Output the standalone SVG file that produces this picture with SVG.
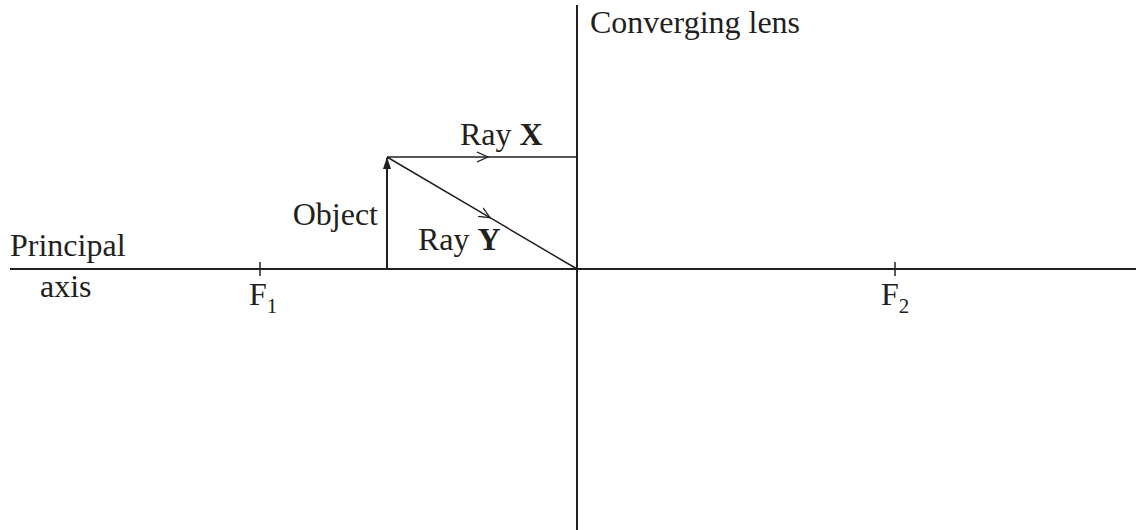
<svg xmlns="http://www.w3.org/2000/svg" width="1136" height="530" viewBox="0 0 1136 530">
<defs>
<style>
.ln{stroke:#231f20;stroke-width:2;fill:none}
.rl{stroke:#231f20;stroke-width:1.5;fill:none}
.t{font-family:"Liberation Serif","Times New Roman",serif;font-size:32px;fill:#231f20}
.b{font-weight:bold}
.s{font-size:21px}
</style>
<marker id="chev" viewBox="0 0 12 12" refX="11" refY="6" markerWidth="12" markerHeight="12" markerUnits="userSpaceOnUse" orient="auto">
<path d="M0,1 L11,6 L0,11" fill="none" stroke="#231f20" stroke-width="1.3"/>
</marker>
<marker id="head" viewBox="0 0 8 12" refX="4" refY="1" markerWidth="8" markerHeight="12" markerUnits="userSpaceOnUse" orient="0">
<path d="M0,12 L4,0 L8,12 Z" fill="#231f20"/>
</marker>
</defs>
<rect width="1136" height="530" fill="#fff"/>
<g id="connectors">
<line id="principal-axis" class="ln" x1="10" y1="269" x2="1136" y2="269"/>
<line id="lens" class="ln" x1="577" y1="5" x2="577" y2="530"/>
<line id="tick-f1" class="rl" x1="260" y1="262" x2="260" y2="276"/>
<line id="tick-f2" class="rl" x1="895" y1="262" x2="895" y2="276"/>
<path id="ray-x" class="rl" d="M387,157 L488,157 L577,157" marker-mid="url(#chev)"/>
<path id="ray-y" class="rl" d="M387,157 L490,217.7 L577,269" marker-mid="url(#chev)"/>
<line id="object" class="ln" x1="387" y1="269" x2="387" y2="158" marker-end="url(#head)"/>
</g>
<g id="label-lens"><text class="t" x="590" y="33">Converging lens</text></g>
<g id="label-ray-x"><text class="t" x="460" y="145">Ray <tspan class="b">X</tspan></text></g>
<g id="label-ray-y"><text class="t" x="418" y="250">Ray <tspan class="b">Y</tspan></text></g>
<g id="label-object"><text class="t" x="378" y="225" text-anchor="end">Object</text></g>
<g id="label-axis"><text class="t" x="10" y="256">Principal</text><text class="t" x="40" y="297">axis</text></g>
<g id="label-f1"><text class="t" x="249" y="305">F<tspan class="s" dy="8">1</tspan></text></g>
<g id="label-f2"><text class="t" x="881" y="305">F<tspan class="s" dy="8">2</tspan></text></g>
</svg>
